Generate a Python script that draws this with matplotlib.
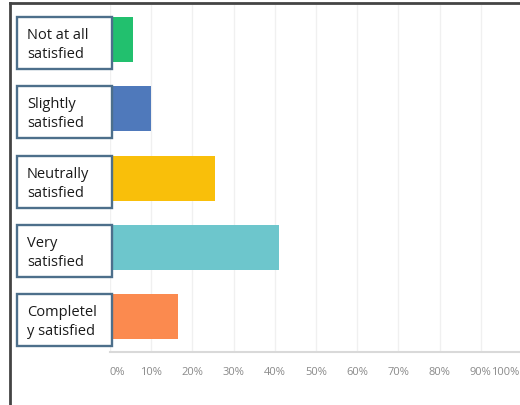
import matplotlib.pyplot as plt
from matplotlib.patches import Rectangle
from matplotlib.lines import Line2D
from matplotlib.transforms import offset_copy

plt.rcParams['font.family'] = ['Open Sans', 'DejaVu Sans']

categories = ["Not at all\nsatisfied", "Slightly\nsatisfied", "Neutrally\nsatisfied",
              "Very\nsatisfied", "Completel\ny satisfied"]
shares = [5.5, 10, 25.5, 41, 16.5]
colors = ["#22c06e", "#4f79bb", "#f9bf0a", "#6dc6cc", "#fb8a4f"]
ticks = [0, 10, 20, 30, 40, 50, 60, 70, 80, 90, 100]
tick_labels = ["%d%%" % t for t in ticks]

W, H = 520, 405
fig = plt.figure(figsize=(W / 100, H / 100), dpi=100)
ax = fig.add_axes([110 / W, (H - 352) / H, (522 - 110) / W, (352 - 5) / H])

ypos = list(range(len(categories)))
bar_h = 0.65
ax.barh(ypos, shares, height=bar_h, color=colors, zorder=3)
ax.set_xlim(0, 100)
ax.set_ylim(4.51, -0.5)

# light vertical grid, bottom baseline only
ax.set_xticks(ticks)
ax.grid(axis='x', color='#f0f0f0', linewidth=1.0, zorder=0)
for s in ['left', 'right', 'top']:
    ax.spines[s].set_visible(False)
ax.spines['bottom'].set_color('#d9d9d9')
ax.spines['bottom'].set_linewidth(1.5)
ax.set_yticks([])
ax.tick_params(axis='x', length=0, pad=11, labelsize=8, labelcolor='#8a8a8a')
ax.set_xticklabels(tick_labels)
ax.get_xticklabels()[0].set_ha('left')
last = ax.get_xticklabels()[-1]
last.set_ha('right')
last.set_transform(offset_copy(last.get_transform(), fig=fig, x=-3, y=0, units='dots'))

# category labels in outlined boxes left of the bars
px = 100 / (522 - 110)
for i, lab in enumerate(categories):
    top = i - bar_h / 2
    ax.add_patch(Rectangle(((17 - 110) * px, top), (112 - 17) * px, 0.75,
                           facecolor='white', edgecolor='#4d6f8b', linewidth=1.7,
                           clip_on=False, zorder=4))
    ax.text((27 - 110) * px, top + 0.375 + 2 / 69.25, lab, ha='left', va='center',
            fontsize=10.5, color='#1a1a1a', linespacing=1.35, zorder=5,
            clip_on=False)

# outer frame edges
fig.add_artist(Line2D([10 / W, 1], [1 - 3 / H, 1 - 3 / H], color='#444444', linewidth=2))
fig.add_artist(Line2D([10 / W, 10 / W], [0, 1 - 3 / H], color='#444444', linewidth=2))

fig.savefig("out.png", dpi=100)
